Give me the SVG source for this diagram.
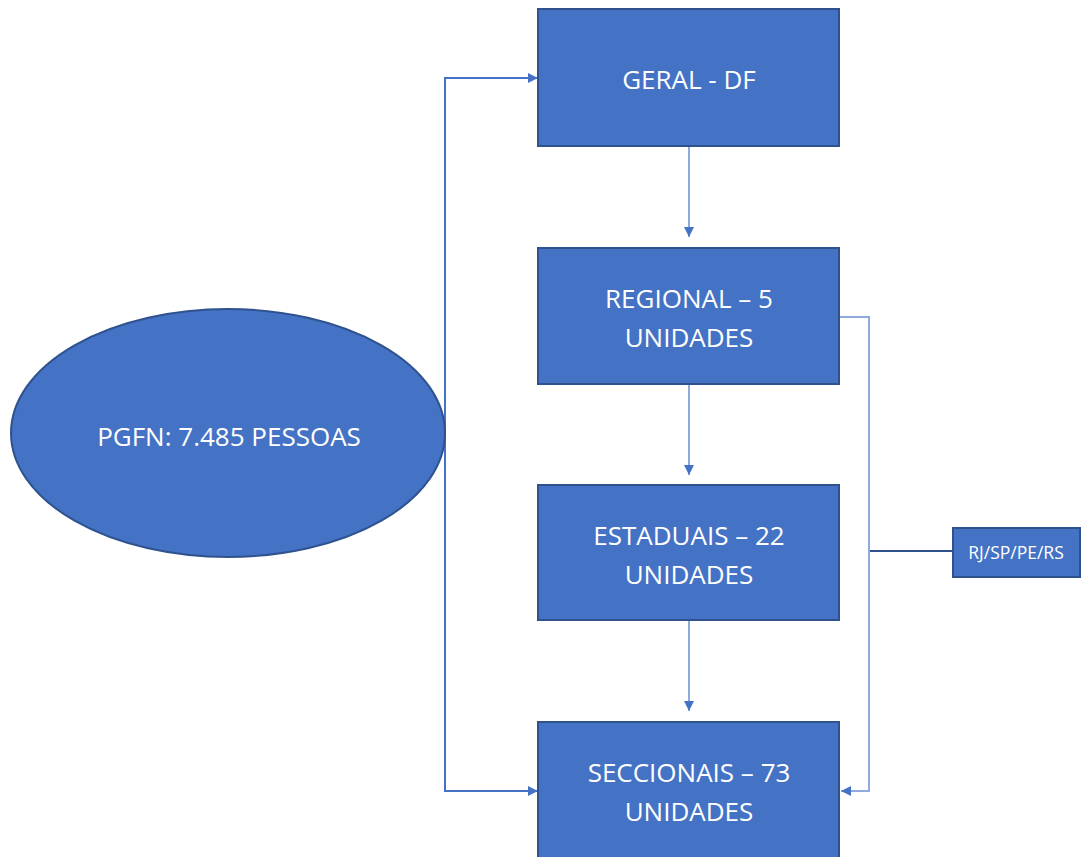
<svg xmlns="http://www.w3.org/2000/svg" width="1082" height="857" viewBox="0 0 1082 857">
<style>
.box{fill:#4472c4;stroke:#2f528f;stroke-width:2}
.t{font-family:"Open Sans","Liberation Sans",sans-serif;fill:#ffffff;font-size:26px;text-anchor:middle}
.c{fill:none;stroke:#4472c4;stroke-width:2}
.cl{fill:none;stroke:#8faadc;stroke-width:2}
</style>
<defs>
<marker id="ah2" viewBox="0 0 10 10" refX="10" refY="5" markerWidth="10" markerHeight="10" orient="auto" markerUnits="userSpaceOnUse">
<path d="M0,0 L10,5 L0,10 z" fill="#4472c4"/>
</marker>
</defs>
<rect width="1082" height="857" fill="#ffffff"/>
<g id="connectors">
<path class="c" d="M445,433 V78 H538" marker-end="url(#ah2)"/>
<path class="c" d="M445,433 V791 H538" marker-end="url(#ah2)"/>
<path class="cl" d="M689,146 V237" marker-end="url(#ah2)"/>
<path class="cl" d="M689,384 V475" marker-end="url(#ah2)"/>
<path class="cl" d="M689,620 V711" marker-end="url(#ah2)"/>
<path class="cl" d="M839,317 H869 V791 H841" marker-end="url(#ah2)"/>
<path d="M870,551 H953" fill="none" stroke="#2f528f" stroke-width="2"/>
</g>
<g id="pgfn">
<ellipse class="box" cx="228" cy="433" rx="217" ry="124"/>
<text class="t" x="229" y="446">PGFN: 7.485 PESSOAS</text>
</g>
<g id="geral">
<rect class="box" x="538" y="9" width="301" height="137"/>
<text class="t" x="689" y="89">GERAL - DF</text>
</g>
<g id="regional">
<rect class="box" x="538" y="248" width="301" height="136"/>
<text class="t" x="689" y="308">REGIONAL – 5</text>
<text class="t" x="689" y="347">UNIDADES</text>
</g>
<g id="estaduais">
<rect class="box" x="538" y="485" width="301" height="135"/>
<text class="t" x="689" y="545">ESTADUAIS – 22</text>
<text class="t" x="689" y="584">UNIDADES</text>
</g>
<g id="seccionais">
<rect class="box" x="538" y="722" width="301" height="140"/>
<text class="t" x="689" y="782">SECCIONAIS – 73</text>
<text class="t" x="689" y="821">UNIDADES</text>
</g>
<g id="rj">
<rect class="box" x="953" y="528" width="127" height="49"/>
<text class="t" x="1016" y="559" style="font-size:17.5px">RJ/SP/PE/RS</text>
</g>
</svg>
